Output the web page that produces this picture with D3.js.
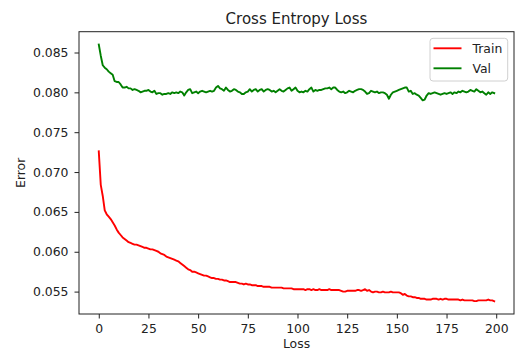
<!DOCTYPE html>
<html lang="en">
<head>
  <meta charset="UTF-8">
  <title>Cross Entropy Loss</title>
  <style>
    body { margin: 0; background: #fff; }
    svg { display: block; font-family: "DejaVu Sans", sans-serif; }
  </style>
</head>
<body>
  <svg id="chart" width="515" height="351"></svg>

  <script src="https://cdn.jsdelivr.net/npm/d3@7/dist/d3.min.js"></script>
  <script>

    // epochs 0..199, values
    var train = [
      0.0726, 0.0684, 0.0670, 0.0652, 0.0647, 0.0644, 0.0641, 0.0637, 0.0633, 0.0628,
      0.0624, 0.0621, 0.0618, 0.0616, 0.0614, 0.0612, 0.0611, 0.0610, 0.0609, 0.0609,
      0.0608, 0.0607, 0.0606, 0.0605, 0.0605, 0.0604, 0.0603, 0.0603, 0.0602, 0.0601,
      0.0600, 0.0598, 0.0597, 0.0596, 0.0594, 0.0593, 0.0592, 0.0591, 0.0590, 0.0589,
      0.0588, 0.0586, 0.0584, 0.0582, 0.0580, 0.0578, 0.0577, 0.0575, 0.0575, 0.0574,
      0.0573, 0.0572, 0.0571, 0.0570, 0.0570, 0.0569, 0.0568, 0.0567, 0.0567, 0.0566,
      0.0566, 0.0565, 0.0565, 0.0564, 0.0564, 0.0563, 0.0562, 0.0562, 0.0562, 0.0562,
      0.0561, 0.0560, 0.0560, 0.0559, 0.0560, 0.0559, 0.0559, 0.0558, 0.0558, 0.0558,
      0.0557, 0.0557, 0.0557, 0.0556, 0.0556, 0.0556, 0.0556, 0.0555, 0.0555, 0.0555,
      0.0555, 0.0555, 0.0555, 0.0554, 0.0554, 0.0554, 0.0554, 0.0554, 0.0553, 0.0553,
      0.0553, 0.0553, 0.0553, 0.0553, 0.0552, 0.0553, 0.0553, 0.0552, 0.0553, 0.0552,
      0.0552, 0.0553, 0.0552, 0.0552, 0.0552, 0.0552, 0.0553, 0.0552, 0.0552, 0.0552,
      0.0552, 0.0552, 0.0551, 0.0550, 0.0550, 0.0551, 0.0551, 0.0551, 0.0551, 0.0551,
      0.0552, 0.0552, 0.0551, 0.0552, 0.0553, 0.0551, 0.0552, 0.0550, 0.0549, 0.0550,
      0.0550, 0.0549, 0.0549, 0.0550, 0.0549, 0.0549, 0.0549, 0.0550, 0.0549, 0.0549,
      0.0549, 0.0549, 0.0548, 0.0546, 0.0547, 0.0545, 0.0544, 0.0544, 0.0543, 0.0543,
      0.0542, 0.0542, 0.0541, 0.0541, 0.0541, 0.0540, 0.0540, 0.0540, 0.0541, 0.0541,
      0.0541, 0.0540, 0.0541, 0.0540, 0.0541, 0.0541, 0.0540, 0.0540, 0.0540, 0.0540,
      0.0540, 0.0540, 0.0539, 0.0540, 0.0539, 0.0539, 0.0539, 0.0539, 0.0539, 0.0538,
      0.0538, 0.0539, 0.0539, 0.0539, 0.0539, 0.0539, 0.0540, 0.0539, 0.0539, 0.0538
    ];

    var val = [
      0.0860, 0.0846, 0.0834, 0.0831, 0.0829, 0.0826, 0.0824, 0.0822, 0.0814, 0.0813,
      0.0813, 0.0810, 0.0806, 0.0806, 0.0807, 0.0805, 0.0805, 0.0803, 0.0804, 0.0803,
      0.0802, 0.0800, 0.0801, 0.0802, 0.0802, 0.0803, 0.0801, 0.0800, 0.0802, 0.0798,
      0.0799, 0.0799, 0.0797, 0.0798, 0.0798, 0.0799, 0.0798, 0.0800, 0.0799, 0.0800,
      0.0799, 0.0801, 0.0800, 0.0796, 0.0800, 0.0803, 0.0804, 0.0799, 0.0800, 0.0801,
      0.0799, 0.0801, 0.0802, 0.0801, 0.0800, 0.0801, 0.0802, 0.0801, 0.0802, 0.0806,
      0.0808, 0.0805, 0.0804, 0.0802, 0.0806, 0.0803, 0.0801, 0.0802, 0.0804, 0.0803,
      0.0801, 0.0800, 0.0798, 0.0798, 0.0800, 0.0801, 0.0804, 0.0801, 0.0803, 0.0804,
      0.0801, 0.0803, 0.0804, 0.0801, 0.0803, 0.0804, 0.0803, 0.0801, 0.0802, 0.0800,
      0.0802, 0.0804, 0.0802, 0.0801, 0.0803, 0.0805, 0.0806, 0.0802, 0.0804, 0.0806,
      0.0802, 0.0800, 0.0801, 0.0800, 0.0802, 0.0801, 0.0804, 0.0806, 0.0801, 0.0803,
      0.0802, 0.0803, 0.0803, 0.0804, 0.0805, 0.0805, 0.0806, 0.0804, 0.0806, 0.0806,
      0.0803, 0.0801, 0.0800, 0.0801, 0.0799, 0.0800, 0.0802, 0.0801, 0.0800, 0.0802,
      0.0803, 0.0804, 0.0804, 0.0803, 0.0801, 0.0798, 0.0799, 0.0802, 0.0801, 0.0800,
      0.0801, 0.0799, 0.0800, 0.0800, 0.0799, 0.0797, 0.0792, 0.0797, 0.0800, 0.0801,
      0.0802, 0.0803, 0.0804, 0.0805, 0.0806, 0.0806, 0.0801, 0.0802, 0.0798, 0.0799,
      0.0797, 0.0796, 0.0793, 0.0790, 0.0791, 0.0796, 0.0799, 0.0798, 0.0799, 0.0800,
      0.0799, 0.0798, 0.0797, 0.0798, 0.0799, 0.0798, 0.0799, 0.0800, 0.0798, 0.0800,
      0.0799, 0.0801, 0.0800, 0.0802, 0.0801, 0.0800, 0.0801, 0.0803, 0.0802, 0.0801,
      0.0804, 0.0802, 0.0800, 0.0801, 0.0799, 0.0797, 0.0800, 0.0798, 0.0800, 0.0799
    ];

    var xTicks = [0, 25, 50, 75, 100, 125, 150, 175, 200];
    var yTicks = [0.055, 0.060, 0.065, 0.070, 0.075, 0.080, 0.085];
    var seriesNames = ["Train", "Val"];
    var seriesColors = ["#ff0000", "#008000"];

    var svg = d3.select("#chart"),
      pl = 79, pr = 514, pt = 31.7, pb = 314;

    // matplotlib style 5% margins
    var n = train.length - 1,
      all = train.concat(val),
      ymin = d3.min(all), ymax = d3.max(all),
      xpad = n * 0.05, ypad = (ymax - ymin) * 0.05;

    var x = d3.scaleLinear().domain([-xpad, n + xpad]).range([pl, pr]);
    var y = d3.scaleLinear().domain([ymin - ypad, ymax + ypad]).range([pb, pt]);

    var line = d3.line()
      .x(function (d, i) { return x(i); })
      .y(function (d) { return y(d); });

    [train, val].forEach(function (s, k) {
      svg.append("path")
        .datum(s)
        .attr("fill", "none")
        .attr("stroke", seriesColors[k])
        .attr("stroke-width", 1.9)
        .attr("stroke-linejoin", "round")
        .attr("stroke-linecap", "square")
        .attr("d", line);
    });

    // frame
    svg.append("rect")
      .attr("x", pl).attr("y", pt)
      .attr("width", pr - pl).attr("height", pb - pt)
      .attr("fill", "none").attr("stroke", "#222").attr("stroke-width", 1);

    var xAxis = svg.append("g")
      .attr("transform", "translate(0," + pb + ")")
      .call(d3.axisBottom(x).tickValues(xTicks).tickSize(4.5).tickPadding(5.5)
        .tickFormat(d3.format("d")));
    var yAxis = svg.append("g")
      .attr("transform", "translate(" + pl + ",0)")
      .call(d3.axisLeft(y).tickValues(yTicks).tickSize(4.5).tickPadding(6)
        .tickFormat(d3.format(".3f")));

    [xAxis, yAxis].forEach(function (g) {
      g.select(".domain").remove();
      g.selectAll(".tick line").attr("stroke", "#222");
      g.selectAll(".tick text")
        .attr("fill", "#222")
        .style("font-family", "DejaVu Sans")
        .style("font-size", "12.4px");
    });

    svg.append("text")
      .attr("x", (pl + pr) / 2).attr("y", 24)
      .attr("text-anchor", "middle")
      .style("font-size", "15px").attr("fill", "#222")
      .text("Cross Entropy Loss");

    svg.append("text")
      .attr("x", (pl + pr) / 2).attr("y", 348)
      .attr("text-anchor", "middle")
      .style("font-size", "12.4px").attr("fill", "#222")
      .text("Loss");

    svg.append("text")
      .attr("transform", "translate(25," + (pt + pb) / 2 + ") rotate(-90)")
      .attr("text-anchor", "middle")
      .style("font-size", "12.4px").attr("fill", "#222")
      .text("Error");

    // legend
    var lg = svg.append("g").attr("transform", "translate(430,38.3)");
    lg.append("rect")
      .attr("width", 77.7).attr("height", 42.7).attr("rx", 3)
      .attr("fill", "#fff").attr("fill-opacity", 0.8)
      .attr("stroke", "#d0d0d0").attr("stroke-width", 1);
    seriesNames.forEach(function (name, k) {
      var yy = 10 + k * 20;
      lg.append("line")
        .attr("x1", 3.5).attr("x2", 31.5).attr("y1", yy).attr("y2", yy)
        .attr("stroke", seriesColors[k]).attr("stroke-width", 1.9);
      lg.append("text")
        .attr("x", 42.5).attr("y", yy + 4.5)
        .style("font-size", "12.4px").attr("fill", "#222")
        .text(name);
    });
  </script>
</body>
</html>
